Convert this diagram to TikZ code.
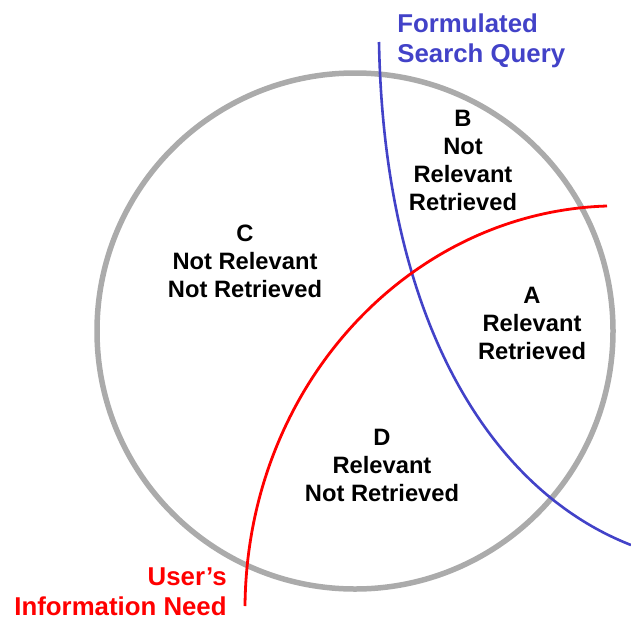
\documentclass[tikz,border=0pt]{standalone}
\usepackage{fontspec}
\setmainfont{Liberation Sans}
\usetikzlibrary{calc}

\begin{document}
\begin{tikzpicture}[x=1pt,y=-1pt,thick]
\tikzset{region/.style={align=center,inner sep=0pt,font=\fontsize{23.7}{28}\selectfont\bfseries},
  caption/.style={inner sep=0pt,font=\fontsize{25.8}{30}\selectfont\bfseries}}
\colorlet{collection}{black!33}
\definecolor{query}{RGB}{66,66,200} \colorlet{need}{red}

\useasboundingbox (0,0) rectangle (631,621);

\coordinate (O) at (355,331);
\draw[collection,line width=5.5pt] (O) circle[radius=258];

\coordinate (Q1) at (379,42); \coordinate (Q2) at (631,545);
\draw[query,line width=2.6pt] (Q1) .. controls (384,320) and (490,490) .. (Q2);
\coordinate (N1) at (245,606); \coordinate (N2) at (607,206);
\draw[need,line width=2.8pt] (N1) .. controls (247,385) and (410,212) .. (N2);

\node[region](A) at (532,323.5) {A\\Relevant\\Retrieved};
\node[region](B) at (463,160) {B\\Not\\Relevant\\Retrieved};
\node[region](C) at (245,261) {C\\Not Relevant\\Not Retrieved};
\node[region](D) at (382,465) {D\\Relevant\\Not Retrieved};

\node[caption,query,align=left,anchor=north west](Qlabel) at (397,13) {Formulated\\Search Query};
\node[caption,need,align=right,anchor=north east](Nlabel) at (227,567) {User's\\Information Need};
\end{tikzpicture}
\end{document}
